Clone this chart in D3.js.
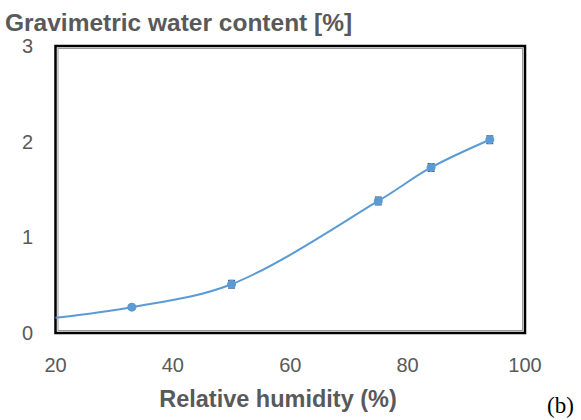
<!DOCTYPE html>
<html>
<head>
<meta charset="utf-8">
<script src="https://cdn.jsdelivr.net/npm/d3@7"></script>
<style>
  body { margin: 0; background: #fff; }
  svg { display: block; }
</style>
</head>
<body>
<svg id="chart" width="581" height="420"></svg>
<script>
// measured points (relative humidity %, water content %)
const humidity = [33, 50, 75, 84, 94];
const content = [0.27, 0.51, 1.38, 1.73, 2.02];
const errors = [0.02, 0.04, 0.04, 0.04, 0.04];
// fitted line starts at the left edge
const lineStart = [20, 0.16];
const xTicks = [20, 40, 60, 80, 100];
const yTicks = [0, 1, 2, 3];

const blue = '#5b9bd5';
const grey = '#595959';

const svg = d3.select('#chart');

const x = d3.scaleLinear().domain([20, 100]).range([55.5, 525]);
const y = d3.scaleLinear().domain([0, 3]).range([333, 46]);

// plot frame: black outline with a thin grey inner line
svg.append('rect')
  .attr('x', x(20)).attr('y', y(3))
  .attr('width', x(100) - x(20)).attr('height', y(0) - y(3))
  .attr('fill', 'none').attr('stroke', '#000').attr('stroke-width', 2.5);
svg.append('rect')
  .attr('x', x(20) + 2.5).attr('y', y(3) + 2.5)
  .attr('width', x(100) - x(20) - 5).attr('height', y(0) - y(3) - 5)
  .attr('fill', 'none').attr('stroke', '#9a9a9a').attr('stroke-width', 1);

// tick labels
svg.append('g').selectAll('text')
  .data(xTicks).join('text')
  .attr('x', d => x(d)).attr('y', 372)
  .attr('text-anchor', 'middle')
  .attr('font-family', 'Liberation Sans, Arial, sans-serif')
  .attr('font-size', 20).attr('fill', grey)
  .text(d => d);

svg.append('g').selectAll('text')
  .data(yTicks).join('text')
  .attr('x', 33).attr('y', d => y(d) + 7)
  .attr('text-anchor', 'end')
  .attr('font-family', 'Liberation Sans, Arial, sans-serif')
  .attr('font-size', 20).attr('fill', grey)
  .text(d => d);

// smoothed line
const pts = [lineStart].concat(humidity.map((h, i) => [h, content[i]]));
const line = d3.line()
  .x(d => x(d[0])).y(d => y(d[1]))
  .curve(d3.curveCatmullRom.alpha(0.5));

svg.append('path')
  .datum(pts)
  .attr('d', line)
  .attr('fill', 'none')
  .attr('stroke', blue)
  .attr('stroke-width', 2);

// error bars
const eb = svg.append('g').attr('stroke', '#404040').attr('stroke-width', 1.2);
humidity.forEach((h, i) => {
  const cx = x(h);
  const lo = y(content[i] - errors[i]);
  const hi = y(content[i] + errors[i]);
  eb.append('line').attr('x1', cx).attr('x2', cx).attr('y1', lo).attr('y2', hi);
  eb.append('line').attr('x1', cx - 3.5).attr('x2', cx + 3.5).attr('y1', lo).attr('y2', lo);
  eb.append('line').attr('x1', cx - 3.5).attr('x2', cx + 3.5).attr('y1', hi).attr('y2', hi);
});

// markers
svg.append('g').selectAll('circle')
  .data(humidity).join('circle')
  .attr('cx', d => x(d))
  .attr('cy', (d, i) => y(content[i]))
  .attr('r', 4.5)
  .attr('fill', blue);

// titles
svg.append('text')
  .attr('x', 5).attr('y', 31)
  .attr('font-family', 'Liberation Sans, Arial, sans-serif')
  .attr('font-weight', 'bold').attr('font-size', 24.5).attr('fill', grey)
  .text('Gravimetric water content [%]');

svg.append('text')
  .attr('x', 278).attr('y', 407)
  .attr('text-anchor', 'middle')
  .attr('font-family', 'Liberation Sans, Arial, sans-serif')
  .attr('font-weight', 'bold').attr('font-size', 23.5).attr('fill', grey)
  .text('Relative humidity (%)');

svg.append('text')
  .attr('x', 547).attr('y', 413)
  .attr('font-family', 'Liberation Serif, Times New Roman, serif')
  .attr('font-size', 23).attr('fill', '#000')
  .text('(b)');
</script>
</body>
</html>
